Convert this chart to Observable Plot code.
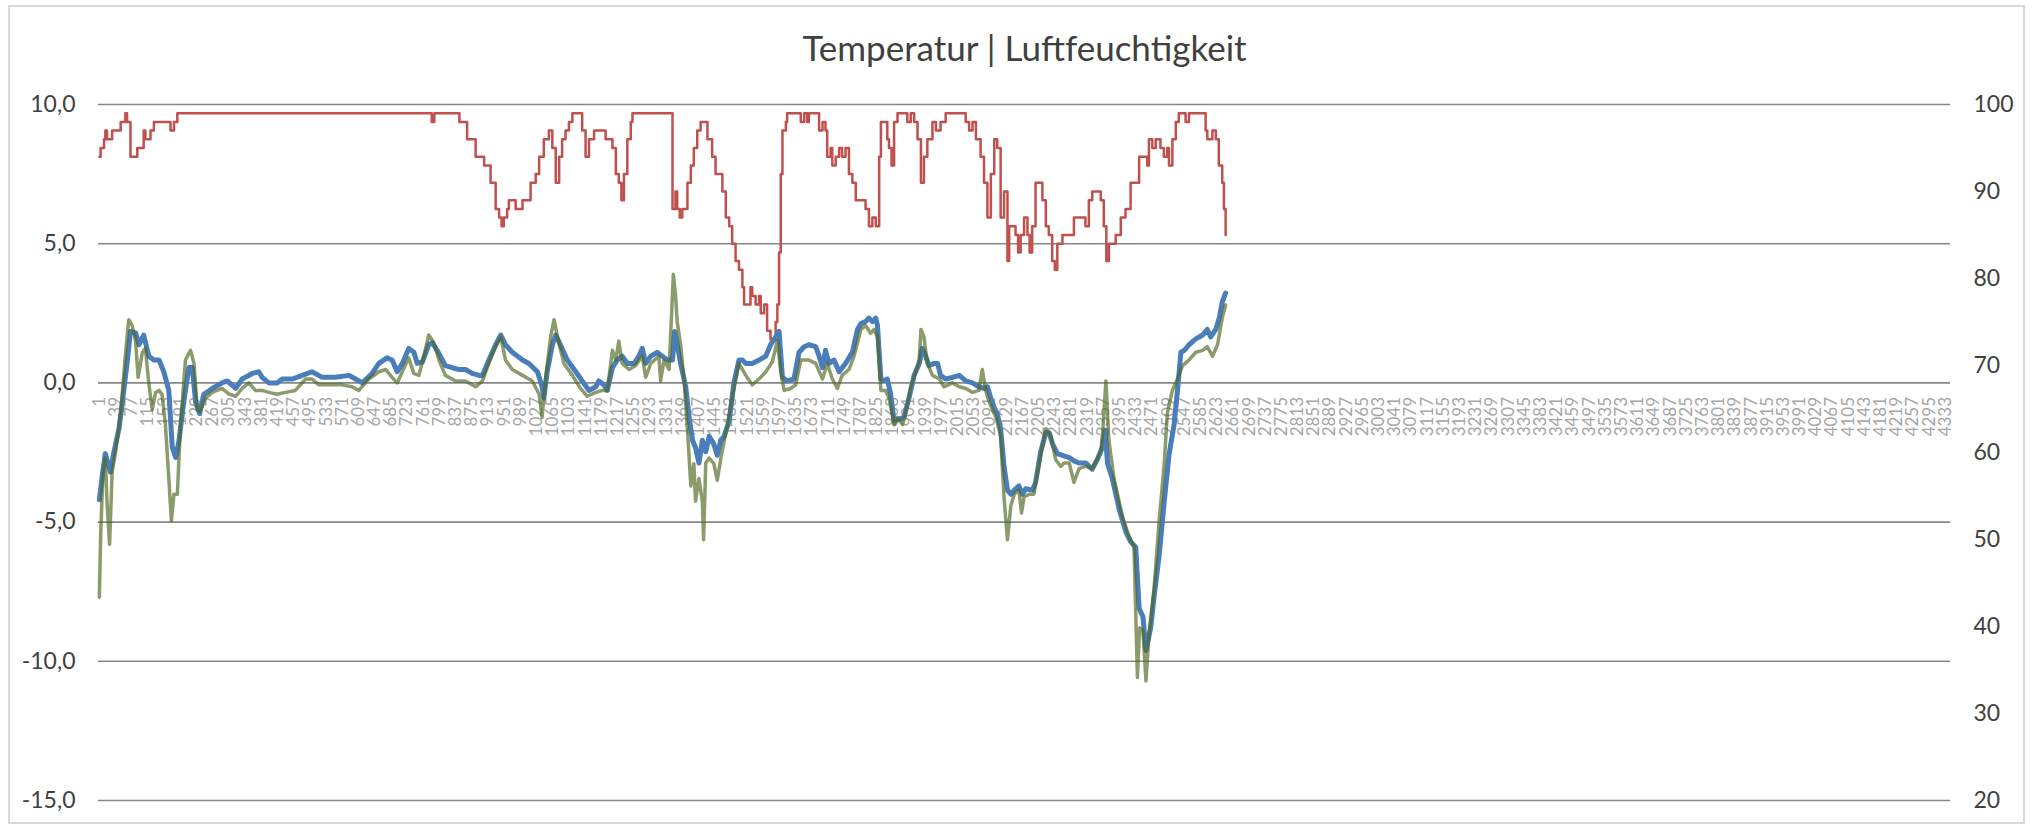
<!DOCTYPE html>
<html>
<head>
<meta charset="utf-8">
<script src="https://cdn.jsdelivr.net/npm/d3@7"></script>
<script src="https://cdn.jsdelivr.net/npm/@observablehq/plot@0.6"></script>
<style>
  html, body { margin: 0; padding: 0; background: #fff; }
  #wrap { position: relative; width: 2032px; height: 828px; overflow: hidden; }
  #border { position: absolute; left: 8px; top: 5px; width: 2017px; height: 819px; border: 2px solid #d9d9d9; box-sizing: border-box; }
  #chart { position: absolute; left: 0; top: 0; }
</style>
</head>
<body>
<div id="wrap"><div id="border"></div><div id="chart"></div></div>
<script>
const title = "Temperatur | Luftfeuchtigkeit";
const leftTicks = [-15, -10, -5, 0, 5, 10];
const rightTicks = [20, 30, 40, 50, 60, 70, 80, 90, 100];
const xLabels = d3.range(1, 4334, 38);

// Temperature sensor 1 (blue) — sample index / °C
const blueIdx = [1,8,15,27,35,47,55,66,74,86,94,105,117,129,141,152,164,172,180,188,199,211,219,227,236,246,266,289,301,321,336,360,375,383,399,418,430,454,477,500,524,555,587,602,618,641,657,676,688,700,712,727,739,747,759,774,782,794,813,829,845,860,876,892,900,915,931,943,954,970,994,1009,1029,1040,1044,1052,1064,1072,1083,1099,1119,1134,1150,1166,1173,1185,1193,1205,1216,1228,1240,1256,1267,1275,1283,1295,1310,1322,1334,1346,1351,1357,1365,1377,1385,1393,1400,1408,1416,1424,1432,1443,1451,1459,1467,1479,1490,1502,1510,1518,1533,1549,1565,1576,1588,1596,1604,1615,1631,1643,1655,1666,1682,1690,1698,1705,1713,1725,1737,1752,1768,1780,1788,1799,1807,1815,1823,1827,1835,1842,1850,1858,1866,1878,1889,1901,1913,1925,1932,1940,1948,1960,1968,1975,1987,2003,2019,2034,2050,2065,2077,2085,2093,2101,2108,2116,2124,2132,2140,2148,2159,2167,2175,2191,2198,2210,2222,2230,2238,2249,2261,2277,2288,2300,2316,2331,2343,2355,2361,2367,2378,2394,2410,2421,2433,2441,2450,2457,2468,2476,2488,2500,2511,2523,2531,2539,2547,2558,2574,2590,2601,2609,2621,2629,2636,2644];
const blueTemp = [-4.2,-3.3,-2.54,-3.2,-2.5,-1.65,-0.7,0.7,1.85,1.8,1.37,1.72,0.96,0.82,0.82,0.41,-0.27,-2.3,-2.68,-2.06,-0.69,0.55,0.55,-0.7,-1.1,-0.41,-0.2,0,0.07,-0.2,0.14,0.34,0.4,0.2,0,0,0.14,0.14,0.27,0.4,0.2,0.2,0.27,0.14,0,0.34,0.7,0.9,0.82,0.4,0.7,1.24,1.1,0.7,0.75,1.37,1.44,1.17,0.62,0.55,0.48,0.48,0.34,0.27,0.27,0.82,1.37,1.72,1.37,1.1,0.82,0.7,0.4,-0.14,-0.55,0.4,1.37,1.72,1.37,0.82,0.4,0.07,-0.27,-0.14,0.07,-0.07,-0.27,0.55,0.82,0.96,0.7,0.7,0.96,1.24,0.7,0.96,1.1,0.96,0.82,0.82,1.85,1.37,0.7,-0.14,-1.24,-2.06,-2.33,-2.88,-2.06,-2.47,-1.92,-2.2,-2.6,-2.06,-1.92,-1.37,0,0.82,0.82,0.7,0.7,0.82,0.96,1.37,1.65,1.85,0.2,0.07,0.14,1.1,1.3,1.37,1.3,0.96,0.55,1.17,0.7,0.82,0.4,0.7,1.1,1.92,2.13,2.2,2.33,2.2,2.33,2.06,0.14,0.07,0.14,-0.41,-1.37,-1.3,-1.24,-0.55,0.27,0.7,1.24,0.96,0.62,0.7,0.7,0.27,0.14,0.2,0.27,0.07,0,-0.14,-0.2,-0.14,-0.55,-0.9,-1.1,-1.65,-3.0,-3.85,-4.0,-3.85,-3.7,-4.0,-3.8,-3.85,-3.57,-2.47,-1.79,-1.79,-2.2,-2.54,-2.6,-2.68,-2.8,-2.88,-2.88,-3.1,-2.75,-2.3,-1.7,-2.9,-3.43,-4.53,-5.36,-5.7,-5.9,-8.1,-8.4,-9.6,-8.8,-7.7,-6.2,-4.25,-2.6,-1.5,-0.27,1.1,1.17,1.37,1.58,1.72,1.92,1.65,1.92,2.33,2.9,3.23];

// Temperature sensor 2 (green) — sample index / °C
const greenIdx = [1,4,9,15,19,25,31,39,51,62,70,78,86,92,102,109,117,125,133,141,148,156,164,170,176,184,191,203,215,223,231,238,250,266,289,305,321,336,352,367,383,399,418,438,461,485,500,516,540,571,594,610,633,657,673,688,700,712,727,739,751,763,774,786,798,813,837,860,884,900,915,931,943,954,970,994,1017,1033,1040,1048,1060,1068,1076,1091,1111,1130,1146,1166,1181,1193,1205,1213,1220,1228,1244,1259,1275,1283,1295,1314,1318,1326,1338,1348,1353,1357,1365,1373,1381,1389,1396,1400,1408,1416,1419,1424,1432,1443,1451,1459,1471,1486,1502,1518,1533,1549,1565,1580,1592,1600,1608,1623,1635,1647,1666,1682,1698,1709,1721,1733,1744,1760,1772,1788,1799,1811,1819,1827,1835,1846,1854,1866,1874,1886,1893,1905,1917,1925,1929,1936,1944,1956,1972,1983,2003,2019,2034,2050,2065,2073,2081,2089,2105,2116,2124,2132,2140,2148,2159,2165,2171,2183,2194,2210,2222,2234,2245,2257,2265,2277,2288,2300,2316,2331,2351,2356,2363,2370,2382,2402,2417,2429,2437,2442,2450,2457,2464,2476,2488,2500,2507,2519,2531,2543,2558,2574,2590,2601,2613,2625,2636,2644];
const greenTemp = [-7.7,-5.5,-3.4,-2.7,-4.3,-5.8,-3.2,-2.5,-1.1,1.0,2.27,2.06,1.5,0.2,1.1,1.24,0,-0.96,-0.34,-0.27,-0.41,-1.5,-3.43,-4.95,-4.0,-4.0,-1.65,0.82,1.17,0.7,-0.96,-1.03,-0.55,-0.34,-0.2,-0.4,-0.48,-0.2,0,-0.27,-0.27,-0.34,-0.41,-0.34,-0.27,0.14,0.14,-0.07,-0.07,-0.07,-0.14,-0.27,0.14,0.4,0.48,0.2,0,0.4,0.9,0.34,0.27,1.0,1.72,1.44,0.82,0.27,0.07,0.07,-0.14,0.07,0.7,1.3,1.65,0.82,0.48,0.27,0.07,-0.41,-1.24,0.14,1.65,2.27,1.65,0.7,0.27,-0.2,-0.48,-0.34,-0.27,-0.27,1.17,0.82,1.5,0.7,0.48,0.62,0.96,0.2,0.7,0.96,0.07,0.82,0.48,3.9,3.16,2.2,1.37,0.14,-1.65,-3.7,-2.9,-4.25,-3.43,-4.25,-5.63,-2.88,-2.7,-2.9,-3.5,-2.75,-1.79,-0.55,0.7,0.27,-0.07,0.14,0.4,0.75,1.5,0.4,-0.27,-0.2,-0.07,0.82,0.82,0.7,0.14,0.7,0.14,-0.2,0.27,0.48,0.96,1.92,2.06,1.78,1.92,1.65,-0.27,-0.27,-0.55,-1.5,-1.24,-1.5,-1.1,-0.14,0.4,0.82,1.92,1.65,0.7,0.27,0.14,-0.14,0,-0.14,-0.2,-0.34,-0.27,0.48,-0.27,-0.69,-1.24,-1.92,-4.12,-5.63,-4.4,-4.0,-3.85,-4.67,-4.1,-4.0,-4.0,-2.6,-1.65,-1.92,-2.75,-3.0,-2.88,-2.88,-3.57,-3.08,-3.0,-3.08,-2.47,-1.65,0.07,-2.06,-3.43,-4.8,-5.5,-5.9,-10.58,-8.8,-8.9,-10.7,-9.07,-7.4,-4.95,-2.88,-1.1,-0.27,0.14,0.62,0.82,1.1,1.17,1.3,0.96,1.37,2.33,2.8];

// Relative humidity (red, right axis) — sample index / %
const humIdx = [1,4,12,15,19,27,31,47,51,58,62,66,74,82,90,98,105,109,121,129,160,168,176,184,778,781,787,841,846,856,864,876,884,896,904,911,919,931,939,945,950,958,962,970,978,990,994,1005,1013,1025,1033,1044,1052,1056,1064,1072,1080,1087,1095,1103,1111,1127,1134,1142,1150,1162,1177,1189,1197,1205,1213,1220,1226,1232,1240,1248,1252,1342,1346,1353,1357,1363,1369,1373,1381,1389,1396,1404,1412,1420,1428,1439,1447,1455,1463,1471,1479,1486,1494,1502,1510,1514,1522,1529,1533,1541,1549,1553,1561,1568,1576,1580,1588,1592,1596,1600,1604,1612,1615,1643,1647,1655,1662,1666,1682,1690,1698,1705,1709,1717,1721,1729,1737,1744,1752,1760,1768,1776,1784,1792,1799,1807,1815,1823,1831,1835,1846,1850,1854,1860,1866,1874,1893,1897,1905,1913,1921,1929,1936,1944,1956,1964,1975,1987,2026,2034,2042,2050,2058,2069,2077,2085,2093,2101,2108,2116,2124,2132,2136,2143,2151,2157,2163,2171,2179,2184,2190,2198,2206,2214,2222,2229,2237,2243,2249,2261,2276,2288,2308,2315,2323,2331,2343,2351,2358,2364,2370,2378,2386,2398,2409,2421,2433,2441,2452,2460,2464,2472,2480,2491,2499,2507,2511,2519,2527,2534,2550,2558,2589,2597,2601,2613,2621,2628,2636,2640,2644];
const humVal = [94,95,96,97,96,96,97,97,98,98,99,98,94,94,95,95,97,96,97,98,98,97,98,99,99,98,99,99,98,98,96,96,94,94,93,93,91,88,87,86,87,88,89,89,88,88,89,89,91,92,94,96,96,97,95,91,94,96,97,98,99,99,97,94,96,97,97,96,96,95,92,91,89,92,96,98,99,99,88,90,88,87,88,88,91,93,95,97,98,98,96,94,92,92,90,87,86,84,82,81,79,77,77,79,78,77,78,76,77,74,73,73,75,77,83,92,97,98,99,99,98,99,98,99,99,97,98,97,94,95,93,94,95,94,95,92,91,89,89,89,88,86,87,86,94,98,98,96,95,93,98,99,99,98,99,98,96,91,94,96,98,97,98,99,99,98,97,98,96,94,91,87,92,96,95,87,90,82,86,86,85,83,85,87,85,83,86,91,91,89,86,85,82,81,84,85,85,87,87,86,89,90,90,89,86,82,84,84,85,87,88,91,91,94,94,93,96,95,96,95,94,95,93,96,98,99,98,99,99,97,96,97,96,93,91,88,85];

const fmt = d => d.toFixed(1).replace(".", ",");
const humToLeft = h => (h - 20) * 25 / 80 - 15;

const blue = blueIdx.map((x, i) => ({x, v: blueTemp[i]}));
const green = greenIdx.map((x, i) => ({x, v: greenTemp[i]}));
const hum = humIdx.map((x, i) => ({x, v: humToLeft(humVal[i])}));

const font = "Lato, 'Open Sans', sans-serif";

const chart = Plot.plot({
  width: 2032,
  height: 828,
  marginLeft: 98,
  marginRight: 82,
  marginTop: 104,
  marginBottom: 28,
  style: {fontFamily: font, background: "transparent", overflow: "visible"},
  x: {type: "linear", domain: [-1, 4345], axis: null},
  y: {domain: [-15, 10], axis: null},
  marks: [
    Plot.ruleY(leftTicks, {stroke: "#878787", strokeWidth: 1.6}),
    Plot.text(leftTicks, {y: d => d, text: fmt, frameAnchor: "left", lineAnchor: "middle", dx: -23, textAnchor: "end", fontSize: 23, fill: "#404040"}),
    Plot.text(rightTicks, {y: humToLeft, text: d => String(d), frameAnchor: "right", lineAnchor: "middle", dx: 23, textAnchor: "start", fontSize: 23, fill: "#404040"}),
    Plot.text(xLabels, {x: d => d, y: 0, text: d => String(d), rotate: -90, textAnchor: "end", lineAnchor: "middle", dy: 14, fontSize: 17, fill: "#a6a6a6"}),
    Plot.line(hum, {x: "x", y: "v", stroke: "#C0504D", strokeWidth: 2.5, curve: "step-after"}),
    Plot.line(blue, {x: "x", y: "v", stroke: "#4A7EBB", strokeWidth: 5, curve: "linear"}),
    Plot.line(green, {x: "x", y: "v", stroke: "#4F6720", strokeOpacity: 0.66, strokeWidth: 3.5, curve: "linear"}),
    Plot.text([title], {text: d => d, frameAnchor: "top", lineAnchor: "middle", dy: -55, fontSize: 35, fill: "#404040"})
  ]
});
document.getElementById("chart").appendChild(chart);
</script>
</body>
</html>
